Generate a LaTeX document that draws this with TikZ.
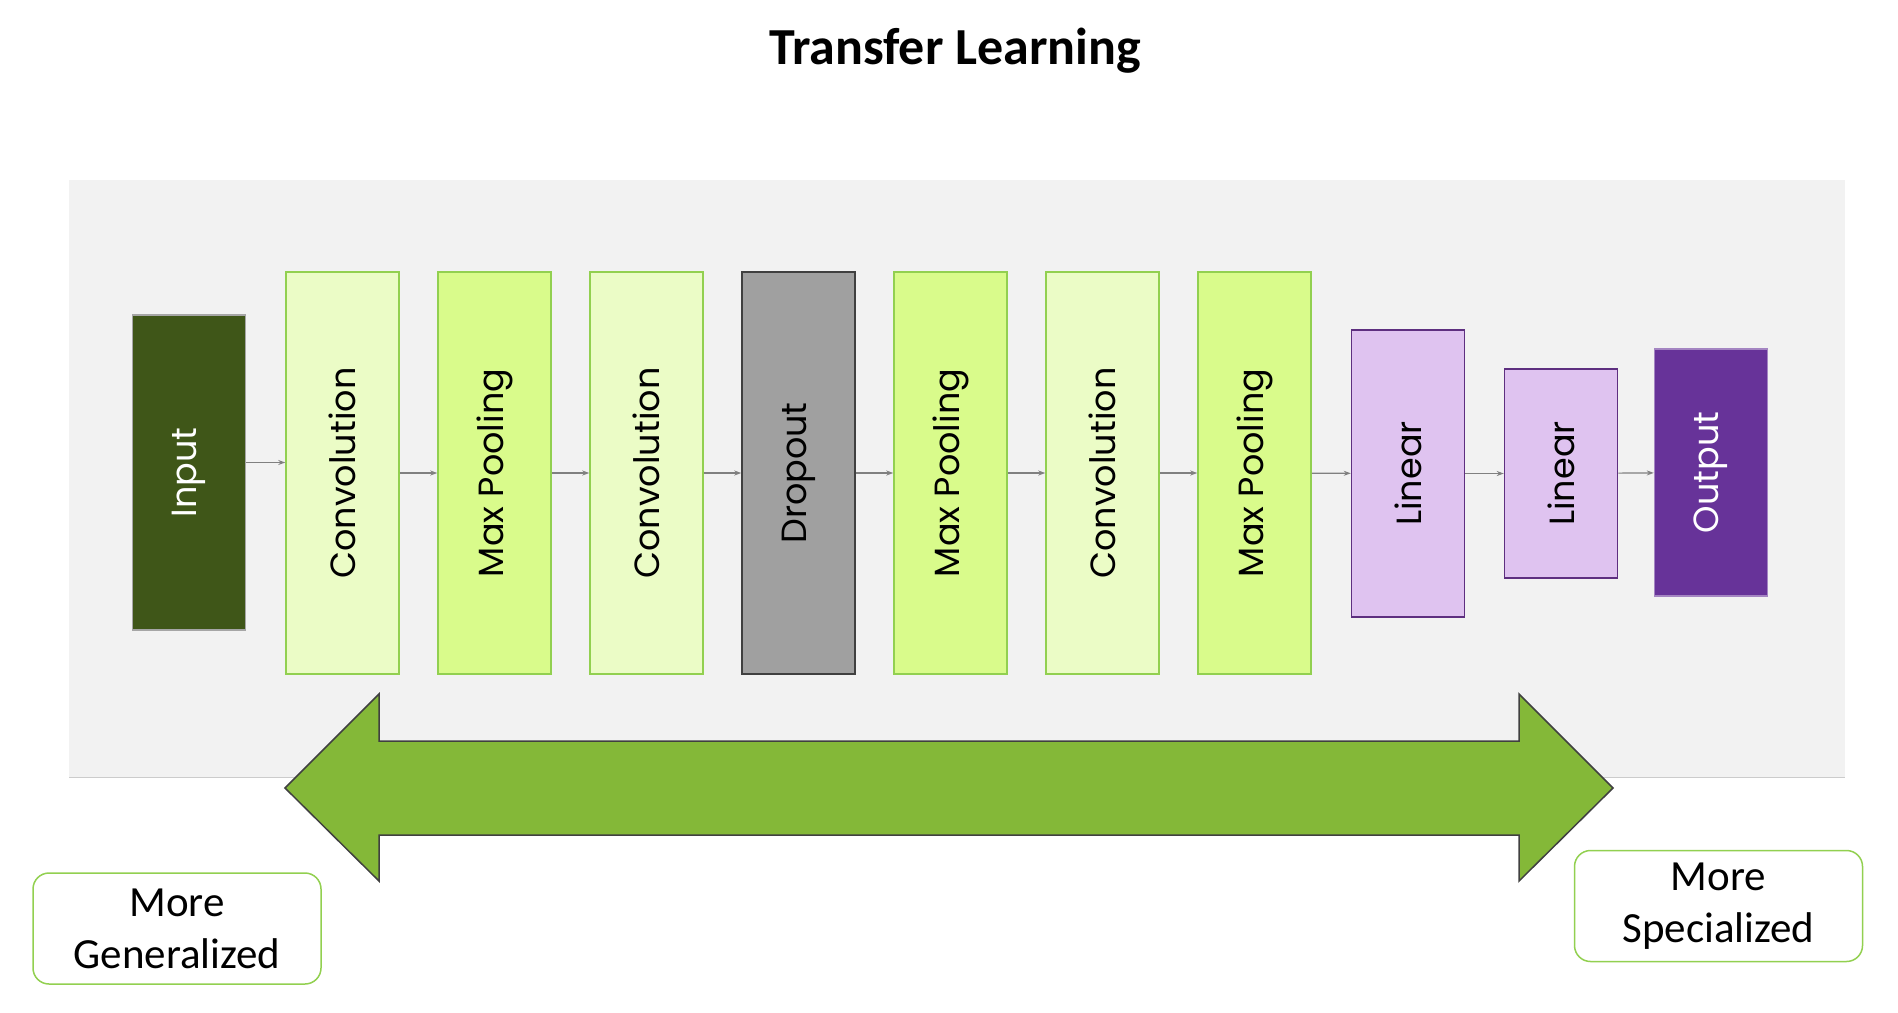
\documentclass[tikz,border=0pt]{standalone}
\usepackage{fontspec}
\setmainfont{Carlito}
\newfontfamily\layerfont{Poppins}
\usetikzlibrary{positioning,arrows.meta}

\definecolor{panelgray}{HTML}{F2F2F2}
\definecolor{inputgreen}{HTML}{3F5618}
\definecolor{convfill}{HTML}{EBFCC6}
\definecolor{poolfill}{HTML}{D9FB8B}
\definecolor{layerborder}{HTML}{92D050}
\definecolor{dropfill}{HTML}{A0A0A0}
\definecolor{linfill}{HTML}{DFC3F0}
\definecolor{linborder}{HTML}{5E2F80}
\definecolor{outpurple}{HTML}{673399}
\definecolor{arrowgreen}{HTML}{84B838}

\tikzset{
  layer/.style={draw=layerborder, line width=0.75pt, minimum width=56.5pt, inner sep=0pt,
    font=\layerfont\fontsize{17.5}{20}\selectfont},
  tall/.style={layer, minimum height=201pt},
  conv/.style={tall, fill=convfill},
  pool/.style={tall, fill=poolfill},
  flow/.style={draw=gray, line width=0.6pt, -{Stealth[length=3.5pt,width=2.5pt]}},
  tag/.style={draw=layerborder, line width=0.75pt, rounded corners=8pt, fill=white,
    minimum width=144pt, minimum height=55.5pt, align=center,
    font=\fontsize{21.5}{26}\selectfont}
}

\begin{document}
\begin{tikzpicture}[x=0.5pt,y=-0.5pt]
	\useasboundingbox (0,0) rectangle (1898,1012);
	\fill [panelgray] (69,180) rectangle (1845,777);
	\draw [black!20] (69,777) -- (1845,777);
	\node (title) at (955,51) {\fontsize{26}{30}\selectfont\bfseries Transfer Learning};
	% layers
	\node [layer, fill=inputgreen, draw=black!35, minimum height=157.5pt, text=white] (input) at (189,472.5) {\rotatebox{90}{Input}};
	\node [conv] (conv1) at (342.5,473) {\rotatebox{90}{Convolution}};
	\node [pool] (pool1) at (494.5,473) {\rotatebox{90}{Max Pooling}};
	\node [conv] (conv2) at (646.5,473) {\rotatebox{90}{Convolution}};
	\node [tall, fill=dropfill, draw=black!75] (drop) at (798.5,473) {\rotatebox{90}{Dropout}};
	\node [pool] (pool2) at (950.5,473) {\rotatebox{90}{Max Pooling}};
	\node [conv] (conv3) at (1102.5,473) {\rotatebox{90}{Convolution}};
	\node [pool] (pool3) at (1254.5,473) {\rotatebox{90}{Max Pooling}};
	\node [layer, fill=linfill, draw=linborder, minimum height=143.5pt] (lin1) at (1408,473.5) {\rotatebox{90}{Linear}};
	\node [layer, fill=linfill, draw=linborder, minimum height=104.5pt] (lin2) at (1561,473.5) {\rotatebox{90}{Linear}};
	\node [layer, fill=outpurple, draw=outpurple!60, minimum height=123.5pt, text=white] (output) at (1711,472.5) {\rotatebox{90}{Output}};
	% connections
	\draw [flow] ([yshift=5pt]input.east) -- ([yshift=5pt]input.east -| conv1.west);
	\draw [flow] (conv1) -- (pool1);
	\draw [flow] (pool1) -- (conv2);
	\draw [flow] (conv2) -- (drop);
	\draw [flow] (drop) -- (pool2);
	\draw [flow] (pool2) -- (conv3);
	\draw [flow] (conv3) -- (pool3);
	\draw [flow] (pool3) -- (lin1);
	\draw [flow] (lin1) -- (lin2);
	\draw [flow] (lin2) -- (output);
	% big arrow
	\draw [fill=arrowgreen, draw=black!75, line width=0.75pt] (285,788) -- (379,694) -- (379,741) -- (1519,741) -- (1519,694) -- (1613,788) -- (1519,881) -- (1519,835) -- (379,835) -- (379,881) -- cycle;
	\node [tag] (general) at (177,928.5) {More\\Generalized};
	\node [tag] (special) at (1718.5,906) {More\\Specialized};
\end{tikzpicture}
\end{document}
